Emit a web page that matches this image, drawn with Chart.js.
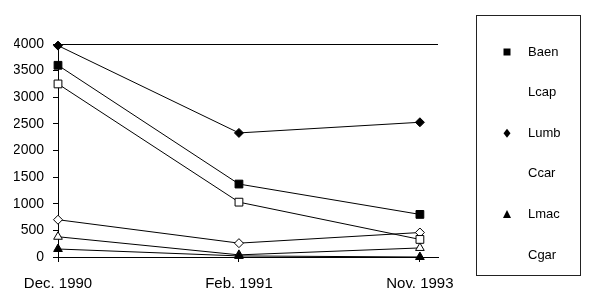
<!DOCTYPE html>
<html lang="en">
<head>
    <meta charset="UTF-8">
    <title>Counts by survey date</title>
    <script src="https://cdn.jsdelivr.net/npm/chart.js@4.4.0/dist/chart.umd.min.js"></script>
    <style>
        body { margin: 0; background: #fff; }
        #wrap { width: 600px; height: 294px; }
    </style>
</head>
<body>
    <div id="wrap"><canvas id="chart" width="600" height="294"></canvas></div>
    <script>
        // Survey dates (x axis)
        const categories = ['Dec. 1990', 'Feb. 1991', 'Nov. 1993'];

        // Values, one array per species
        const baen = [3600, 1370, 800];
        const lcap = [3250, 1030, 330];
        const lumb = [3970, 2330, 2530];
        const ccar = [700, 260, 460];
        const lmac = [150, 20, 0];
        const cgar = [380, 40, 170];

        const yTicks = [0, 500, 1000, 1500, 2000, 2500, 3000, 3500, 4000];

        const FONT = 'Liberation Sans, Arial, sans-serif';

        // build x/y points from the category index
        function toPoints(values) {
            return values.map((v, i) => ({ x: i, y: v }));
        }

        function series(label, values, style, filled, radius) {
            return {
                label: label,
                data: toPoints(values),
                borderColor: '#000',
                borderWidth: 1,
                pointStyle: style,
                pointRadius: radius,
                pointBorderWidth: 1,
                pointBorderColor: '#000',
                pointBackgroundColor: filled ? '#000' : '#fff',
                tension: 0,
                clip: false
            };
        }

        const datasets = [
            series('Baen', baen, 'rect', true, 5.5),
            series('Lcap', lcap, 'rect', false, 5.5),
            series('Lumb', lumb, 'rectRot', true, 4.5),
            series('Ccar', ccar, 'rectRot', false, 4.5),
            series('Lmac', lmac, 'triangle', true, 5),
            series('Cgar', cgar, 'triangle', false, 5)
        ];

        // Boxed legend on the right, like the original figure
        const legendBox = {
            id: 'legendBox',
            afterDraw(chart) {
                const ctx = chart.ctx;
                ctx.save();
                ctx.strokeStyle = '#222';
                ctx.lineWidth = 1;
                ctx.strokeRect(476.5, 15.5, 104, 260);
                ctx.font = '13px ' + FONT;
                ctx.textBaseline = 'middle';
                chart.data.datasets.forEach((ds, i) => {
                    const y = 52 + i * 40.6;
                    const x = 507;
                    // open markers are white on white in the original legend
                    ctx.fillStyle = ds.pointBackgroundColor;
                    ctx.beginPath();
                    if (ds.pointStyle === 'rect') {
                        ctx.rect(x - 3.5, y - 3.5, 7, 7);
                    } else if (ds.pointStyle === 'rectRot') {
                        ctx.moveTo(x, y - 4.5);
                        ctx.lineTo(x + 3.5, y);
                        ctx.lineTo(x, y + 4.5);
                        ctx.lineTo(x - 3.5, y);
                        ctx.closePath();
                    } else {
                        ctx.moveTo(x, y - 4.5);
                        ctx.lineTo(x + 4, y + 3.5);
                        ctx.lineTo(x - 4, y + 3.5);
                        ctx.closePath();
                    }
                    ctx.fill();
                    ctx.fillStyle = '#000';
                    ctx.fillText(ds.label, 528, y);
                });
                ctx.restore();
            }
        };

        const chart = new Chart(document.getElementById('chart'), {
            type: 'line',
            data: { datasets: datasets },
            options: {
                responsive: false,
                animation: false,
                layout: { padding: { left: 14, right: 162, top: 44, bottom: 0 } },
                scales: {
                    x: {
                        type: 'linear',
                        min: 0,
                        max: 2.1,
                        afterFit: (axis) => { axis.height = 37; },
                        border: { color: '#000', width: 1 },
                        grid: { drawOnChartArea: false, tickLength: 5, tickColor: '#000' },
                        ticks: {
                            stepSize: 1,
                            includeBounds: false,
                            padding: 13,
                            color: '#000',
                            font: { family: FONT, size: 15 },
                            maxRotation: 0,
                            autoSkip: false,
                            callback: (v) => categories[v] !== undefined ? categories[v] : ''
                        }
                    },
                    y: {
                        min: 0,
                        max: 4000,
                        afterBuildTicks: (axis) => {
                            axis.ticks = yTicks.map(v => ({ value: v }));
                        },
                        afterFit: (axis) => { axis.width = 44; },
                        border: { color: '#000', width: 1 },
                        grid: {
                            tickLength: 5,
                            tickColor: '#000',
                            color: (c) => (c.tick && c.tick.value === 4000) ? '#000' : 'rgba(0,0,0,0)'
                        },
                        ticks: {
                            padding: 9,
                            color: '#000',
                            font: { family: FONT, size: 14 },
                            callback: (v) => String(v)
                        }
                    }
                },
                plugins: {
                    legend: { display: false },
                    tooltip: { enabled: false }
                }
            },
            plugins: [legendBox]
        });
    </script>
</body>
</html>
